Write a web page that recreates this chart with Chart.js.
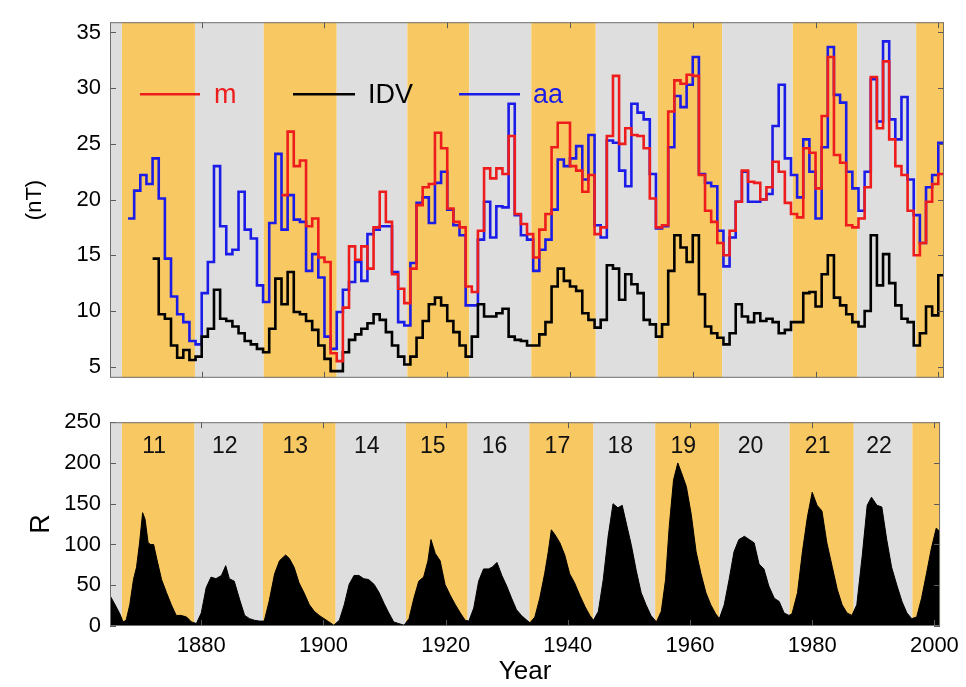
<!DOCTYPE html>
<html>
<head>
<meta charset="utf-8">
<script src="https://cdn.jsdelivr.net/npm/chart.js@4.4.1/dist/chart.umd.min.js"></script>
<style>
  html, body { margin: 0; padding: 0; background: #fff; }
  #wrap { position: relative; width: 966px; height: 687px; }
  canvas { position: absolute; left: 0; }
  #topChart { top: 0; width: 966px; height: 400px; }
  #rChart { top: 400px; width: 966px; height: 287px; }
</style>
</head>
<body>
<div id="wrap">
  <canvas id="topChart" width="966" height="400"></canvas>
  <canvas id="rChart" width="966" height="287"></canvas>
</div>
<script>
// geomagnetic indices (annual means, nT) + sunspot number, cycles 11-23

// solar cycle start years (cycle 11 .. 23), bands alternate orange/grey
const cycleStarts = [1867.0, 1878.9, 1890.1, 1902.0, 1913.5, 1923.6, 1933.7,
                     1944.2, 1954.3, 1964.8, 1976.3, 1986.8, 1996.4];
const firstCycle = 11;
const cycleLabels = ["11", "12", "13", "14", "15", "16", "17", "18", "19", "20", "21", "22"];

const yearTicks = [1880, 1900, 1920, 1940, 1960, 1980, 2000];
const nTTicks = [5, 10, 15, 20, 25, 30, 35];
const rTicks = [0, 50, 100, 150, 200, 250];

// aa index, one value per year from 1868
const aaStart = 1868;
const aaValues = [
  18.3, 20.8,
  22.2, 21.4, 23.7, 20.1, 14.7, 11.3, 9.7, 9.0, 7.3, 7.0,
  11.6, 14.4, 23.0, 17.6, 15.1, 15.5, 20.7, 17.3, 16.5, 12.3,
  10.8, 17.9, 24.1, 17.3, 20.4, 18.2, 18.0, 13.6, 15.1, 13.0,
  7.7, 6.6, 9.9, 11.9, 12.6, 14.4, 12.7, 16.9, 17.3, 17.6,
  17.6, 13.5, 9.0, 8.7, 14.3, 19.7, 20.2, 17.9, 21.5, 22.5,
  19.1, 17.7, 16.8, 10.5, 10.5, 16.4, 19.8, 16.6, 19.4, 19.3,
  28.6, 18.6, 16.8, 16.4, 13.6, 15.5, 16.4, 19.1, 23.6, 23.0,
  23.7, 24.8, 21.8, 25.8, 17.7, 16.6, 25.3, 25.1, 22.6, 21.2,
  28.6, 27.8, 27.2, 22.3, 17.4, 17.6, 24.7, 29.3, 28.3, 30.3,
  32.8, 22.3, 21.5, 21.2, 17.2, 14.0, 16.6, 19.8, 22.5, 19.8,
  19.8, 20.0, 20.5, 26.6, 30.3, 23.7, 22.2, 20.2, 25.4, 22.5,
  18.3, 24.7, 33.7, 29.4, 28.7, 22.5, 21.0, 19.0, 22.5, 30.8,
  27.0, 34.2, 27.2, 25.4, 29.2, 21.8, 18.6, 16.1, 21.1, 22.2,
  25.1
];

// IDV, from 1872
const idvStart = 1872;
const idvValues = [
  14.7, 9.7, 9.3, 6.9, 5.8, 6.5, 5.6, 5.9,
  7.7, 8.4, 11.9, 9.3, 9.1, 8.6, 8.0, 7.3, 7.0, 6.6,
  6.3, 8.4, 12.9, 10.6, 13.5, 9.9, 9.7, 9.1, 8.3, 6.9,
  5.7, 4.6, 4.6, 6.3, 7.4, 7.9, 8.4, 8.9, 9.7, 9.2,
  8.1, 6.9, 5.9, 5.2, 5.9, 7.6, 9.1, 10.6, 11.2, 10.5,
  9.1, 8.1, 6.9, 5.9, 7.7, 10.6, 9.5, 9.5, 9.8, 10.2,
  7.7, 7.4, 7.3, 6.9, 6.9, 7.9, 9.0, 12.2, 13.8, 12.7,
  12.2, 11.8, 9.8, 9.2, 8.5, 9.2, 14.1, 13.8, 11.0, 13.3,
  12.4, 11.6, 9.2, 8.8, 7.7, 8.8, 13.6, 16.8, 15.7, 14.4,
  16.8, 11.5, 8.6, 8.0, 7.6, 7.0, 8.0, 10.6, 9.5, 9.0,
  9.8, 9.1, 9.3, 9.0, 8.0, 8.3, 9.0, 9.0, 11.6, 11.7,
  10.4, 13.3, 15.0, 11.2, 10.5, 9.7, 9.0, 8.6, 10.0, 16.8,
  12.3, 15.1, 12.5, 10.5, 9.3, 9.0, 6.9, 8.0, 10.4, 9.6,
  13.2
];

// m index, from 1893
const mStart = 1893;
const mValues = [
  20.4, 26.1, 23.0, 23.5, 17.6, 18.3, 14.8,
  14.4, 6.2, 5.5, 10.3, 15.8, 14.6, 15.8, 13.8, 17.5, 20.7,
  18.0, 13.3, 12.0, 10.7, 13.8, 19.5, 21.1, 21.4, 26.0, 24.6,
  19.2, 18.0, 17.5, 12.2, 11.7, 17.2, 22.8, 21.9, 22.8, 22.3,
  25.7, 18.7, 17.8, 16.9, 14.8, 17.3, 18.7, 24.7, 26.9, 26.9,
  23.0, 22.6, 20.7, 22.2, 16.9, 17.5, 25.7, 31.1, 25.0, 26.4,
  25.8, 25.7, 24.6, 20.1, 17.5, 17.7, 27.9, 30.7, 30.4, 31.2,
  31.1, 22.2, 19.0, 18.0, 16.1, 15.0, 17.2, 19.8, 22.6, 21.6,
  21.5, 20.0, 21.1, 23.4, 22.5, 19.7, 18.7, 18.4, 24.6, 24.2,
  21.0, 27.5, 32.8, 24.0, 23.3, 17.7, 17.5, 18.3, 21.1, 31.0,
  26.4, 32.4, 25.4, 23.0, 22.2, 19.0, 15.0, 16.1, 19.8, 21.4,
  22.3
];

// sunspot number R
const rYears = [
  1865.05, 1865.9, 1866.7, 1867.2, 1867.7, 1868.3, 1868.9, 1869.4, 1869.9, 1870.4,
  1870.8, 1871.3, 1871.7, 1872.2, 1872.7, 1873.5, 1874.3, 1875.1, 1875.9, 1876.7,
  1877.6, 1878.4, 1879.2, 1880.0, 1880.8, 1881.6, 1882.4, 1883.3, 1884.0, 1884.6,
  1885.4, 1886.3, 1887.1, 1887.9, 1888.7, 1889.5, 1890.3, 1891.1, 1892.0, 1892.8,
  1893.8, 1894.4, 1895.2, 1896.0, 1896.8, 1897.7, 1898.5, 1899.3, 1900.1, 1900.9,
  1901.7, 1902.6, 1903.4, 1904.2, 1905.0, 1905.8, 1906.6, 1907.4, 1908.3, 1909.1,
  1909.9, 1910.7, 1911.5, 1912.3, 1913.2, 1914.0, 1914.8, 1915.6, 1916.4, 1917.1,
  1917.6, 1918.3, 1919.1, 1919.9, 1920.8, 1921.6, 1922.4, 1923.2, 1923.8, 1924.6,
  1925.4, 1926.2, 1927.0, 1927.6, 1928.4, 1929.2, 1930.0, 1930.8, 1931.6, 1932.4,
  1933.3, 1933.8, 1934.6, 1935.4, 1936.2, 1936.8, 1937.3, 1937.9, 1938.7, 1939.5,
  1940.3, 1941.1, 1942.0, 1942.8, 1943.6, 1944.2, 1945.0, 1945.8, 1946.6, 1947.4,
  1948.2, 1948.9, 1949.6, 1950.4, 1951.2, 1952.0, 1952.8, 1953.6, 1954.5, 1955.3,
  1956.0, 1956.6, 1957.3, 1958.0, 1958.6, 1959.4, 1960.2, 1961.0, 1961.8, 1962.6,
  1963.4, 1964.2, 1964.8, 1965.6, 1966.4, 1967.2, 1968.0, 1968.9, 1969.7, 1970.5,
  1971.3, 1972.1, 1972.9, 1973.8, 1974.6, 1975.4, 1976.2, 1976.7, 1977.6, 1978.4,
  1979.2, 1980.0, 1980.8, 1981.6, 1982.4, 1983.3, 1984.1, 1984.9, 1985.7, 1986.5,
  1987.3, 1988.2, 1989.0, 1989.7, 1990.6, 1991.4, 1992.2, 1993.0, 1993.9, 1994.7,
  1995.5, 1996.3, 1997.1, 1997.9, 1998.7, 1999.5, 2000.3, 2000.9
];
const rValues = [
  37.5, 26, 14.5, 5, 7, 26, 57, 72, 102, 139,
  131, 102, 100, 100, 83, 57, 41, 26, 13, 13,
  11, 5, 3, 16, 47, 60, 58, 62, 74, 58,
  55, 32, 13, 9, 7, 6, 6, 30, 64, 80,
  87, 83, 72, 53, 41, 26, 18, 13, 9, 5,
  1, 7, 26, 51, 62, 62, 58, 57, 51, 41,
  28, 16, 5, 3, 1, 9, 34, 55, 60, 80,
  106, 89, 80, 51, 37, 26, 16, 7, 6, 22,
  55, 70, 70, 72, 78, 62, 49, 34, 20, 13,
  7, 4, 11, 34, 64, 91, 118, 112, 102, 87,
  64, 53, 37, 24, 13, 7, 18, 57, 110, 150,
  145, 148, 125, 99, 68, 41, 26, 13, 5, 18,
  57, 122, 179, 200, 188, 171, 137, 91, 64, 41,
  26, 15, 9, 26, 57, 91, 106, 110, 106, 102,
  76, 70, 49, 34, 30, 16, 13, 15, 41, 91,
  133, 164, 148, 141, 102, 72, 45, 26, 16, 13,
  26, 87, 148, 158, 148, 146, 106, 72, 49, 30,
  16, 9, 11, 34, 64, 95, 120, 116
];

const X_MIN = 1865.06, X_MAX = 2000.93;
const RED = "#ee1c1c", BLUE = "#1c1ce8", BLACK = "#000";
const ORANGE = "#f8c862", GREY = "#dedede";
const FONT = "'Liberation Sans', Arial, Helvetica, sans-serif";

Chart.defaults.font.family = FONT;
Chart.defaults.color = "#000";

// annual values -> points; each value holds for [year, year+1)
function stepPoints(start, vals) {
  const pts = vals.map((v, i) => ({ x: start + i, y: v }));
  pts.push({ x: start + vals.length, y: vals[vals.length - 1] });
  return pts;
}

const bandPlugin = {
  id: "cycleBands",
  beforeDatasetsDraw(chart) {
    const { ctx, chartArea: { top, bottom }, scales: { x } } = chart;
    const edges = [X_MIN, ...cycleStarts, X_MAX];
    ctx.save();
    for (let i = 0; i < edges.length - 1; i++) {
      const num = firstCycle - 1 + i;
      const x0 = x.getPixelForValue(edges[i]);
      const x1 = x.getPixelForValue(edges[i + 1]);
      ctx.fillStyle = num % 2 ? ORANGE : GREY;
      ctx.fillRect(x0, top, x1 - x0, bottom - top);
    }
    ctx.restore();
  }
};

// matlab style box with inward ticks
const frameTicksPlugin = {
  id: "frameTicks",
  afterDatasetsDraw(chart) {
    const { ctx, chartArea: { left, top, right, bottom }, scales: { x, y } } = chart;
    const T = 6;
    ctx.save();
    ctx.strokeStyle = "#5a5a5a";
    ctx.lineWidth = 1;
    ctx.beginPath();
    yearTicks.forEach(v => {
      const px = Math.round(x.getPixelForValue(v)) + 0.5;
      ctx.moveTo(px, bottom); ctx.lineTo(px, bottom - T);
      ctx.moveTo(px, top); ctx.lineTo(px, top + T);
    });
    y.ticks.forEach(t => {
      const py = Math.round(y.getPixelForValue(t.value)) + 0.5;
      ctx.moveTo(left, py); ctx.lineTo(left + T, py);
      ctx.moveTo(right, py); ctx.lineTo(right - T, py);
    });
    ctx.stroke();
    ctx.strokeStyle = "#707070";
    ctx.strokeRect(left + 0.5, top + 0.5, right - left - 1, bottom - top - 1);
    ctx.restore();
  }
};

const legendItems = [
  { label: "m", color: RED, x0: 30, x1: 90, tx: 104 },
  { label: "IDV", color: BLACK, x0: 183, x1: 245, tx: 258 },
  { label: "aa", color: BLUE, x0: 349, x1: 410, tx: 423 }
];

const legendPlugin = {
  id: "inlineLegend",
  afterDatasetsDraw(chart) {
    const { ctx, chartArea: { left, top } } = chart;
    const ly = top + 72;
    ctx.save();
    ctx.font = "27px " + FONT;
    ctx.textBaseline = "middle";
    ctx.lineWidth = 2.6;
    legendItems.forEach(it => {
      ctx.strokeStyle = it.color;
      ctx.beginPath();
      ctx.moveTo(left + it.x0, ly);
      ctx.lineTo(left + it.x1, ly);
      ctx.stroke();
      ctx.fillStyle = it.color;
      ctx.fillText(it.label, left + it.tx, ly + 1);
    });
    ctx.restore();
  }
};

const cycleLabelPlugin = {
  id: "cycleLabels",
  afterDatasetsDraw(chart) {
    const { ctx, chartArea: { top }, scales: { x } } = chart;
    ctx.save();
    ctx.font = "23px " + FONT;
    ctx.fillStyle = "#111";
    ctx.textAlign = "center";
    ctx.textBaseline = "middle";
    cycleLabels.forEach((lab, i) => {
      const mid = (cycleStarts[i] + cycleStarts[i + 1]) / 2;
      ctx.fillText(lab, x.getPixelForValue(mid) - 4, top + 24);
    });
    ctx.restore();
  }
};

const stepLine = (label, start, vals, color) => ({
  label,
  data: stepPoints(start, vals),
  borderColor: color,
  backgroundColor: color,
  borderWidth: 2.6,
  stepped: "before",
  pointRadius: 0,
  fill: false
});

new Chart(document.getElementById("topChart"), {
  type: "line",
  data: {
    datasets: [
      stepLine("m", mStart, mValues, RED),
      stepLine("IDV", idvStart, idvValues, BLACK),
      stepLine("aa", aaStart, aaValues, BLUE)
    ]
  },
  options: {
    responsive: false,
    animation: false,
    layout: { padding: { top: 9, right: 22, bottom: 8, left: 0 } },
    plugins: { legend: { display: false }, tooltip: { enabled: false } },
    scales: {
      x: { type: "linear", min: X_MIN, max: X_MAX, display: false },
      y: {
        min: 4, max: 35.92,
        afterFit: s => { s.width = 110; },
        afterBuildTicks: s => { s.ticks = nTTicks.map(v => ({ value: v })); },
        ticks: { font: { size: 22 }, padding: 9, color: "#000", callback: v => String(v) },
        grid: { display: false, drawTicks: false },
        border: { display: false },
        title: { display: true, text: "(nT)", font: { size: 22 }, padding: { top: 22, bottom: 0 } }
      }
    }
  },
  plugins: [bandPlugin, frameTicksPlugin, legendPlugin]
});

new Chart(document.getElementById("rChart"), {
  type: "line",
  data: {
    datasets: [{
      label: "R",
      data: rYears.map((yr, i) => ({ x: yr, y: rValues[i] })),
      borderColor: "#000",
      backgroundColor: "#000",
      borderWidth: 1,
      pointRadius: 0,
      fill: "origin"
    }]
  },
  options: {
    responsive: false,
    animation: false,
    layout: { padding: { top: 7, right: 22, bottom: 0, left: 0 } },
    plugins: { legend: { display: false }, tooltip: { enabled: false } },
    scales: {
      x: {
        type: "linear", min: X_MIN, max: X_MAX,
        afterFit: s => { s.height = 61; },
        afterBuildTicks: s => { s.ticks = yearTicks.map(v => ({ value: v })); },
        ticks: { font: { size: 22 }, padding: 7, color: "#000", maxRotation: 0, callback: v => String(v) },
        grid: { display: false, drawTicks: false },
        border: { display: false },
        title: { display: true, text: "Year", font: { size: 26 }, padding: { top: 0, bottom: 0 } }
      },
      y: {
        min: 0, max: 250,
        afterFit: s => { s.width = 110; },
        afterBuildTicks: s => { s.ticks = rTicks.map(v => ({ value: v })); },
        ticks: { font: { size: 22 }, padding: 9, color: "#000", callback: v => String(v) },
        grid: { display: false, drawTicks: false },
        border: { display: false },
        title: { display: true, text: "R", font: { size: 27 }, padding: { top: 25, bottom: 0 } }
      }
    }
  },
  plugins: [bandPlugin, frameTicksPlugin, cycleLabelPlugin]
});
</script>
</body>
</html>
